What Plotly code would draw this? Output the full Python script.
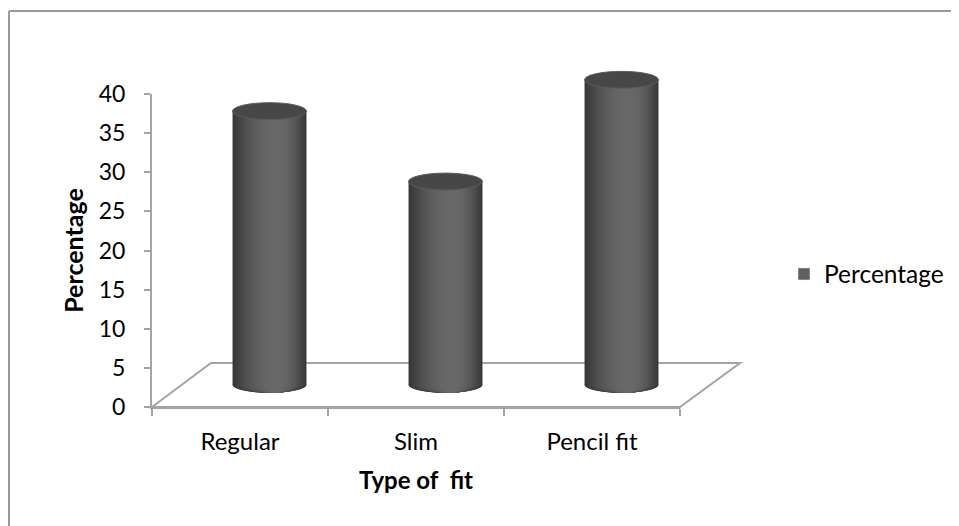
import plotly.graph_objects as go

categories = ["Regular", "Slim", "Pencil fit"]
values = [35, 26, 39]
y_ticks = [0, 5, 10, 15, 20, 25, 30, 35, 40]
series_name = "Percentage"
x_title = "Type of  fit"
y_title = "Percentage"

# page body has an 8px margin, so the figure is drawn 8px in from the window
OFF = 8
W, H = 959 - OFF, 526 - OFF
MT, MB = 30, 30
FONT = "Lato"

def px(x):
    return (x - OFF) / W

def py(y):
    return 1 - (y - OFF - MT) / (H - MT - MB)

idx = list(range(len(categories)))
bar_w = 0.42
hl = 0.6
N = 16
dark, light = 56, 104

# value axis scale (px per unit) and padded range for the cylinder axis
unit_px = (407 - 94) / 40
y2_lo, y2_hi = -2.5, 42

fig = go.Figure()

def gray(v):
    v = int(round(v))
    return f"rgb({v},{v},{v})"

layer_cols = []
for k in range(N):
    s = 1 - k / N
    t = k / (N - 1)
    v = dark + (light - dark) * (1 - (1 - t) ** 2)
    col = gray(v)
    layer_cols.append((s, col))
    fig.add_trace(go.Bar(
        x=idx, y=values, base=0,
        width=s * bar_w,
        offset=(hl - hl * s - 0.5) * bar_w,
        marker=dict(color=col, line=dict(width=0)),
        xaxis="x2", yaxis="y2",
        showlegend=False, hoverinfo="skip",
    ))

# legend entry (on the front axes so they are drawn)
fig.add_trace(go.Bar(
    x=idx, y=[None] * len(idx), name=series_name,
    marker=dict(color="#606060"),
    xaxis="x", yaxis="y", showlegend=True,
))

shapes = []
# outer frame (left and top)
shapes.append(dict(type="line", xref="paper", yref="paper",
                   x0=px(9), x1=px(9), y0=py(11), y1=py(526),
                   line=dict(color="#9a9a9a", width=2)))
shapes.append(dict(type="line", xref="paper", yref="paper",
                   x0=px(9), x1=px(959), y0=py(11), y1=py(11),
                   line=dict(color="#9a9a9a", width=2)))
# floor
shapes.append(dict(type="path", xref="paper", yref="paper", layer="below",
                   path=f"M {px(152)},{py(407)} L {px(211)},{py(363)} L {px(740)},{py(363)} L {px(680)},{py(407)} Z",
                   line=dict(color="#a3a3a3", width=2), fillcolor="rgba(0,0,0,0)"))

eh_bot = 1.0
eh_top = 1.08
for i, v in zip(idx, values):
    # bottom caps (gradient approximated with nested ellipses)
    for s, col in layer_cols:
        x0 = i + (hl - hl * s - 0.5) * bar_w
        shapes.append(dict(type="circle", xref="x2", yref="y2", layer="below",
                           x0=x0, x1=x0 + s * bar_w, y0=-eh_bot, y1=eh_bot,
                           fillcolor=col, line=dict(width=0)))
    # top cap
    shapes.append(dict(type="circle", xref="x2", yref="y2", layer="above",
                       x0=i - bar_w / 2, x1=i + bar_w / 2,
                       y0=v - eh_top, y1=v + eh_top,
                       fillcolor="#474747", line=dict(color="#5c5c5c", width=1)))

fig.update_layout(
    width=W, height=H,
    margin=dict(l=0, r=0, t=MT, b=MB),
    paper_bgcolor="white", plot_bgcolor="rgba(0,0,0,0)",
    barmode="overlay",
    font=dict(family=FONT, size=23, color="black"),
    shapes=shapes,
    showlegend=True,
    legend=dict(x=px(784), y=py(274), xanchor="left", yanchor="middle",
                font=dict(family=FONT, size=24.5, color="black"),
                bgcolor="rgba(0,0,0,0)", itemwidth=30),
    xaxis=dict(
        domain=[px(152), px(680)], range=[-0.5, len(categories) - 0.5],
        tickvals=idx, ticktext=categories, ticks="",
        tickfont=dict(size=24),
        showline=True, linecolor="#a3a3a3", linewidth=2,
        showgrid=False, zeroline=False, ticklabelstandoff=12,
        minor=dict(tickvals=[i - 0.5 for i in idx] + [len(idx) - 0.5],
                   ticks="outside", ticklen=7, tickcolor="#a3a3a3", tickwidth=2,
                   showgrid=False),
        title=dict(text=f"<b>{x_title}</b>", standoff=18,
                   font=dict(family=FONT, size=24)),
        anchor="y", fixedrange=True, automargin=False,
    ),
    yaxis=dict(
        domain=[py(407), py(94)], range=[0, 40],
        tickvals=y_ticks, ticks="outside", ticklen=6, tickcolor="#a3a3a3", tickwidth=2,
        showline=True, linecolor="#a3a3a3", linewidth=2,
        showgrid=False, zeroline=False, ticklabelstandoff=14,
        title=dict(text=f"<b>{y_title}</b>", standoff=8,
                   font=dict(family=FONT, size=25)),
        anchor="x", fixedrange=True, automargin=False,
    ),
    xaxis2=dict(domain=[px(181.5), px(709.5)], range=[-0.5, len(categories) - 0.5],
                visible=False, anchor="y2", fixedrange=True, automargin=False),
    yaxis2=dict(domain=[py(385 - y2_lo * unit_px), py(72 - (y2_hi - 40) * unit_px)],
                range=[y2_lo, y2_hi],
                visible=False, anchor="x2", fixedrange=True, automargin=False),
)

fig.write_html("out.html")
